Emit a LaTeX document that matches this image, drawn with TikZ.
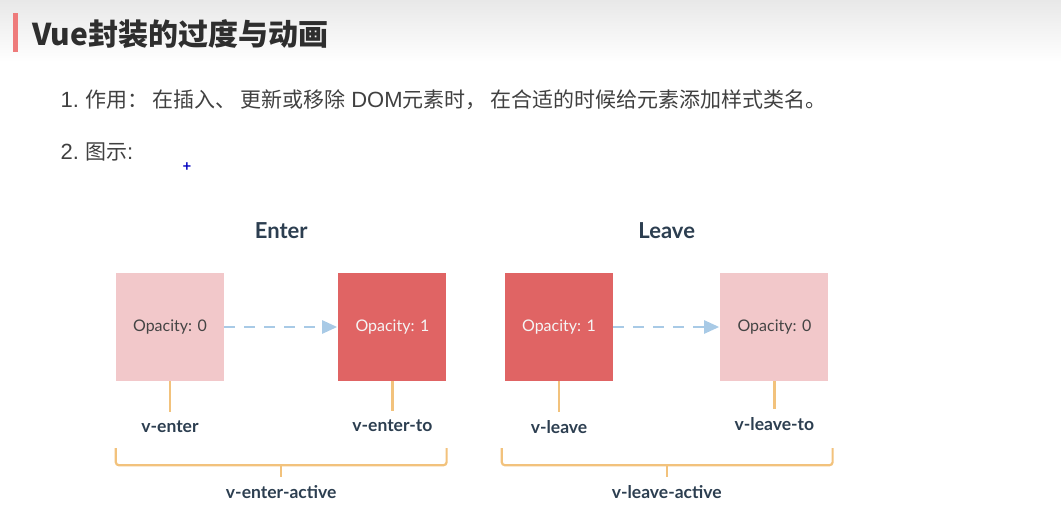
\documentclass[tikz,border=0pt]{standalone}
\usepackage{fontspec}
\setmainfont{Lato}
\newfontfamily\cjk{Noto Sans CJK SC}
\newfontfamily\latfont{Liberation Sans}
\newcommand{\lat}[1]{{\latfont\fontsize{22}{24}\selectfont #1}}
\newcommand{\pgap}{\hspace{4pt}}
\usepackage{xcolor}
\usetikzlibrary{arrows.meta, positioning, calc}
\definecolor{boxlight}{HTML}{F2C8CA}
\definecolor{boxdark}{HTML}{E06464}
\definecolor{moveblue}{HTML}{A8CAE6}
\definecolor{bracketorange}{HTML}{F2C27C}
\definecolor{tagslate}{HTML}{2C3E50}
\definecolor{optext}{HTML}{444444}
\definecolor{bodygray}{HTML}{404040}
\definecolor{barred}{HTML}{EE7B7B}
\tikzset{
  box/.style={minimum size=108pt, inner sep=0pt, font=\fontsize{16}{19}\selectfont},
  boxoff/.style={box, fill=boxlight, text=optext},
  boxon/.style={box, fill=boxdark, text=white!96!black},
  head/.style={font=\fontsize{22}{25}\selectfont\bfseries, text=tagslate},
  tag/.style={anchor=north, inner sep=8pt, font=\fontsize{17.5}{20}\selectfont\bfseries, text=tagslate},
  stem/.style={draw=bracketorange, line width=2.2pt},
  move/.style={draw=moveblue, line width=2.5pt, dash pattern=on 11pt off 9pt,
    -{Triangle[length=15pt,width=13pt]}, shorten >=1pt}
}
\begin{document}
\begin{tikzpicture}[x=1pt,y=-1pt,node distance=0.3cm]
\useasboundingbox (0,0) rectangle (1061,519);
\shade[top color=black!9, bottom color=white] (0,0) rectangle (1061,62);
% heading
\fill[barred] (13,13) rectangle (18,52);
\node[anchor=west, font=\cjk\fontsize{30}{34}\selectfont\bfseries, text=black!82] (title) at (29,34) {Vue封装的过度与动画};
\node[anchor=west, font=\cjk\fontsize{21}{25}\selectfont, text=bodygray] (use) at (57,100)
  {\lat{1.} 作用：\pgap 在插入、\pgap 更新或移除\lat{ DOM}元素时，\pgap 在合适的时候给元素添加样式类名。};
\node[anchor=west, font=\cjk\fontsize{21}{25}\selectfont, text=bodygray] (fig) at (57,152) {\lat{2.} 图示\lat{:}};
\node[text=blue!75!black, font=\fontsize{15}{15}\selectfont\bfseries, inner sep=0pt] (cursor) at (187,167) {+};
% boxes
\node[boxoff] (e0) at (170,327) {Opacity: 0};
\node[boxon, right=114pt of e0] (e1) {Opacity: 1};
\node[boxon] (l0) at (559,327) {Opacity: 1};
\node[boxoff, right=107pt of l0] (l1) {Opacity: 0};
\node[head] (enter) at ($(e0.north west)!0.5!(e1.north east)+(0,-42)$) {Enter};
\node[head] (leave) at ($(l0.north west)!0.5!(l1.north east)+(0,-42)$) {Leave};
\draw[move] (e0) -- (e1);
\draw[move] (l0) -- (l1);
% class names
\node[tag] (ve) at ($(e0.south)+(0,31)$) {v-enter};
\node[tag] (vet) at ($(e1.south)+(0,30)$) {v-enter-to};
\node[tag] (vl) at ($(l0.south)+(0,31)$) {v-leave};
\node[tag] (vlt) at ($(l1.south)+(0,28)$) {v-leave-to};
\draw[stem] (e0) -- (ve);
\draw[stem] (e1) -- (vet);
\draw[stem] (l0) -- (vl);
\draw[stem] (l1) -- (vlt);
% brackets
\coordinate (em) at ($(e0.south west)!0.5!(e1.south east)+(0,84)$);
\coordinate (lm) at ($(l0.south west)!0.5!(l1.south east)+(0,84)$);
\draw[stem, rounded corners=3pt] ($(e0.south west)+(0,67)$) -- ++(0,17) -- ($(e1.south east)+(0,84)$) -- ++(0,-17);
\draw[stem, rounded corners=3pt] ($(l0.south west)+(-3,67)$) -- ++(0,17) -- ($(l1.south east)+(4,84)$) -- ++(0,-17);
\node[tag] (vea) at ($(em)+(0,12)$) {v-enter-active};
\node[tag] (vla) at ($(lm)+(0,12)$) {v-leave-active};
\draw[stem] (em) -- (vea);
\draw[stem] (lm) -- (vla);
\end{tikzpicture}
\end{document}
